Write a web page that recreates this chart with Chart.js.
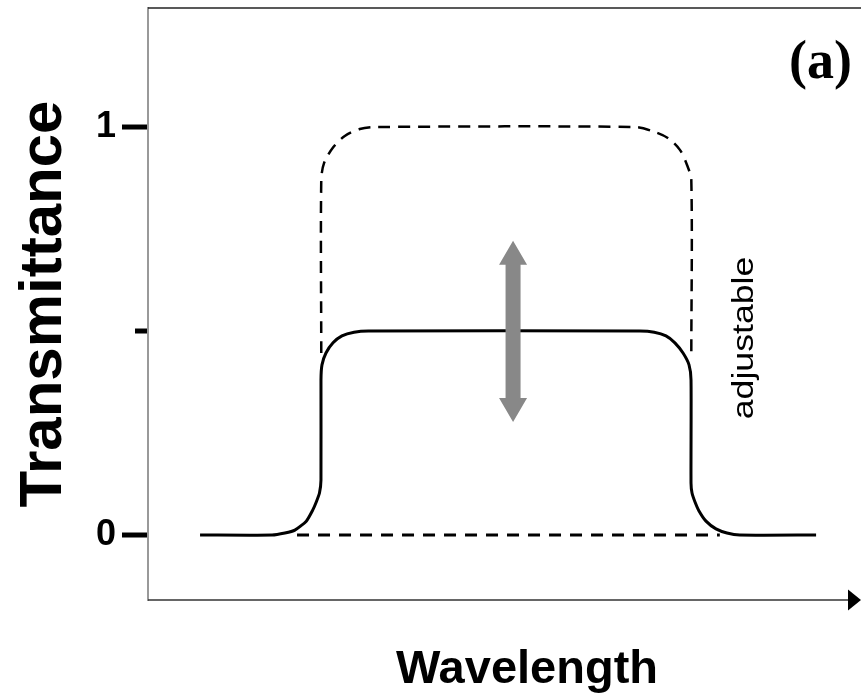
<!DOCTYPE html>
<html>
<head>
<meta charset="utf-8">
<script src="https://cdn.jsdelivr.net/npm/chart.js@4.4.1/dist/chart.umd.min.js"></script>
<style>
  html, body { margin: 0; padding: 0; background: #fff; }
  canvas { display: block; }
</style>
</head>
<body>
<canvas id="c" width="861" height="700"></canvas>
<script>
// ---- data (wavelength in arbitrary units 0..100, transmittance 0..1) ----
const solidX  = [7.3, 17.4, 19.2, 20.6, 22.2, 23.1, 23.6, 24.05, 24.26, 24.26, 24.4, 24.96, 25.95, 27.2, 28.9, 30.9, 69.0, 71.0, 72.65, 73.9, 75.04, 75.88, 76.16, 76.16, 76.3, 76.72, 77.28, 78.26, 79.66, 81.2, 83.0, 93.7];
const solidY  = [0, 0, 0.005, 0.012, 0.034, 0.061, 0.081, 0.103, 0.135, 0.38, 0.417, 0.446, 0.471, 0.488, 0.497, 0.5, 0.5, 0.497, 0.488, 0.471, 0.446, 0.417, 0.38, 0.127, 0.103, 0.081, 0.059, 0.034, 0.015, 0.005, 0, 0];
const dashUpX = [24.3, 24.3, 24.7, 26.0, 27.6, 29.7, 31.8, 68.3, 70.7, 72.9, 74.6, 75.6, 76.2, 76.2];
const dashUpY = [0.446, 0.87, 0.912, 0.951, 0.978, 0.995, 1.0, 1.0, 0.99, 0.973, 0.944, 0.907, 0.87, 0.436];
const dashLowX = [20.9, 80.2];
const dashLowY = [0, 0];
const tickValues = [0, 0.5, 1];
const tickLabels = ['0', '', '1'];
const arrowX = 51.2;
const arrowY = [0.277, 0.721];
const noteText = 'adjustable';
const noteX = 84.0;
const noteY = 0.483;
const panelText = '(a)';
const xTitle = 'Wavelength';
const yTitle = 'Transmittance';

const toPts = (xs, ys) => xs.map((x, i) => ({ x: x, y: ys[i] }));
const SANS = '"Liberation Sans", Arial, Helvetica, sans-serif';
const SERIF = '"Liberation Serif", "Times New Roman", serif';

const decor = {
  id: 'decor',
  afterDraw(chart) {
    const ctx = chart.ctx, ca = chart.chartArea;
    const xs = chart.scales.x, ys = chart.scales.y;
    ctx.save();
    // top border
    ctx.strokeStyle = '#222'; ctx.lineWidth = 1.5;
    ctx.beginPath(); ctx.moveTo(ca.left, ca.top); ctx.lineTo(ca.right, ca.top); ctx.stroke();
    // bottom axis with arrow
    ctx.strokeStyle = '#333'; ctx.lineWidth = 1.5;
    ctx.beginPath(); ctx.moveTo(ca.left, ca.bottom); ctx.lineTo(ca.right - 12, ca.bottom); ctx.stroke();
    ctx.fillStyle = '#000';
    ctx.beginPath();
    ctx.moveTo(ca.right - 13, ca.bottom - 10.5);
    ctx.lineTo(ca.right, ca.bottom);
    ctx.lineTo(ca.right - 13, ca.bottom + 10.5);
    ctx.closePath(); ctx.fill();
    // y tick marks
    const tickLen = [26, 13, 26];
    ctx.strokeStyle = '#000'; ctx.lineWidth = 5; ctx.lineCap = 'butt';
    tickValues.forEach((v, i) => {
      const y = ys.getPixelForValue(v);
      ctx.beginPath(); ctx.moveTo(ca.left - tickLen[i], y); ctx.lineTo(ca.left - 1, y); ctx.stroke();
    });
    // grey double arrow
    const ax = xs.getPixelForValue(arrowX);
    const yTop = ys.getPixelForValue(arrowY[1]);
    const yBot = ys.getPixelForValue(arrowY[0]);
    const sw = 7.5, hw = 14, hl = 24;
    ctx.fillStyle = '#888';
    ctx.beginPath();
    ctx.moveTo(ax, yTop);
    ctx.lineTo(ax + hw, yTop + hl);
    ctx.lineTo(ax + sw, yTop + hl);
    ctx.lineTo(ax + sw, yBot - hl);
    ctx.lineTo(ax + hw, yBot - hl);
    ctx.lineTo(ax, yBot);
    ctx.lineTo(ax - hw, yBot - hl);
    ctx.lineTo(ax - sw, yBot - hl);
    ctx.lineTo(ax - sw, yTop + hl);
    ctx.lineTo(ax - hw, yTop + hl);
    ctx.closePath(); ctx.fill();
    // "adjustable" rotated, slightly stretched
    ctx.save();
    ctx.translate(xs.getPixelForValue(noteX) + 6, ys.getPixelForValue(noteY));
    ctx.rotate(-Math.PI / 2);
    ctx.scale(1.23, 1);
    ctx.fillStyle = '#000';
    ctx.font = '29px ' + SANS;
    ctx.textAlign = 'center'; ctx.textBaseline = 'alphabetic';
    ctx.fillText(noteText, 0, 0);
    ctx.restore();
    // panel label
    ctx.fillStyle = '#000';
    ctx.font = 'bold 54px ' + SERIF;
    ctx.textAlign = 'right'; ctx.textBaseline = 'alphabetic';
    ctx.fillText(panelText, ca.right - 9, ca.top + 70);
    // x title
    ctx.font = 'bold 47px ' + SANS;
    ctx.textAlign = 'center'; ctx.textBaseline = 'alphabetic';
    ctx.fillText(xTitle, 527, ca.bottom + 83);
    ctx.restore();
  }
};

new Chart(document.getElementById('c'), {
  type: 'line',
  data: {
    datasets: [
      { data: toPts(solidX, solidY), borderColor: '#000', borderWidth: 3, tension: 0.2, pointRadius: 0, fill: false },
      { data: toPts(dashUpX, dashUpY), borderColor: '#000', borderWidth: 2.5, borderDash: [12, 8], tension: 0.3, pointRadius: 0, fill: false },
      { data: toPts(dashLowX, dashLowY), borderColor: '#000', borderWidth: 3, borderDash: [12, 9], tension: 0, pointRadius: 0, fill: false }
    ]
  },
  options: {
    responsive: false,
    animation: false,
    devicePixelRatio: 1,
    layout: { padding: { top: 8, bottom: 100, left: 0, right: 0 } },
    plugins: { legend: { display: false }, tooltip: { enabled: false }, title: { display: false } },
    scales: {
      x: { type: 'linear', min: 0, max: 100, display: false },
      y: {
        type: 'linear', min: -0.1593, max: 1.2917,
        afterBuildTicks: (s) => { s.ticks = tickValues.map(v => ({ value: v })); },
        afterFit: (s) => { s.width = 148; s.paddingTop = 0; s.paddingBottom = 0; },
        grid: { display: false, drawTicks: false },
        border: { display: true, color: '#999', width: 2 },
        ticks: {
          padding: 32, color: '#000',
          font: { family: SANS, size: 36, weight: 'bold' },
          callback: (v) => { const i = tickValues.indexOf(v); return i >= 0 ? tickLabels[i] : ''; }
        },
        title: {
          display: true, text: yTitle, color: '#000',
          font: { family: SANS, size: 60, weight: 'bold' },
          padding: { top: 8, bottom: 0 }
        }
      }
    }
  },
  plugins: [decor]
});
</script>
</body>
</html>
